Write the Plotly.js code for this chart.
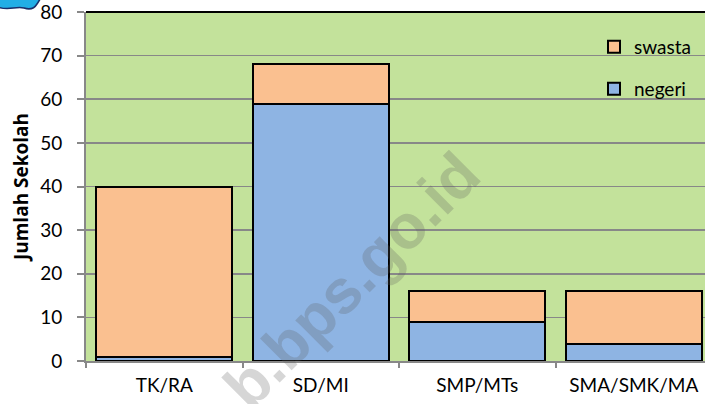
<!DOCTYPE html>
<html>
<head>
<meta charset="utf-8">
<script src="https://cdn.plot.ly/plotly-3.0.1.min.js"></script>
<style>html,body{margin:0;padding:0;background:#fff;}#chart{width:705px;height:404px;}</style>
</head>
<body>
<div id="chart"></div>
<script>
const categories = ["TK/RA", "SD/MI", "SMP/MTs", "SMA/SMK/MA"];
const negeri = [1, 59, 9, 4];
const swasta = [39, 9, 7, 12];
const yTicks = [0, 10, 20, 30, 40, 50, 60, 70, 80];

const W = 705, H = 404;
const M = {l: 86, r: 0, t: 12, b: 43};
const pw = W - M.l - M.r, ph = H - M.t - M.b;
const px2x = p => (p - M.l) / pw;
const py2y = p => (H - M.b - p) / ph;

const font = "Lato, 'Open Sans', sans-serif";

const traces = [
  {type: "bar", name: "negeri", x: categories, y: negeri,
   marker: {color: "#8eb4e3", line: {color: "#000", width: 2}},
   legend: "legend2", hoverinfo: "x+y+name"},
  {type: "bar", name: "swasta", x: categories, y: swasta,
   marker: {color: "#fac090", line: {color: "#000", width: 2}},
   legend: "legend", hoverinfo: "x+y+name"}
];

const layout = {
  width: W, height: H,
  margin: M,
  paper_bgcolor: "#ffffff",
  plot_bgcolor: "#c3e29b",
  barmode: "stack",
  bargap: 0.13,
  font: {family: font, size: 19, color: "#000"},
  showlegend: true,
  legend: {x: px2x(594), y: py2y(47), xanchor: "left", yanchor: "middle",
           bgcolor: "rgba(0,0,0,0)", font: {family: font, size: 19, color: "#000"},
           itemwidth: 30},
  legend2: {x: px2x(594), y: py2y(89), xanchor: "left", yanchor: "middle",
            bgcolor: "rgba(0,0,0,0)", font: {family: font, size: 19, color: "#000"},
            itemwidth: 30},
  xaxis: {
    type: "category",
    range: [-0.5, 3.5 - 7 / 156.5],
    showline: true, linecolor: "#888888", linewidth: 2,
    ticks: "outside", tickson: "boundaries", ticklen: 5, tickwidth: 2, tickcolor: "#888888",
    showgrid: false, zeroline: false,
    tickfont: {family: font, size: 19, color: "#000"},
    ticklabelstandoff: 6,
    ticklabeloverflow: "allow"
  },
  yaxis: {
    range: [0, 80],
    tickvals: yTicks,
    showline: true, linecolor: "#888888", linewidth: 2,
    ticks: "outside", ticklen: 7, tickwidth: 2, tickcolor: "#888888",
    showgrid: true, gridcolor: "#888888", gridwidth: 1.6,
    zeroline: false,
    tickfont: {family: font, size: 19, color: "#000"},
    ticklabelstandoff: 11,
    ticklabeloverflow: "allow",
    title: {text: "Jumlah Sekolah", font: {family: "'Open Sans', sans-serif", size: 19, color: "#000", weight: "bold"}, standoff: 7}
  },
  shapes: [
    {type: "line", xref: "paper", yref: "paper", x0: 0, x1: 1, y0: 1, y1: 1,
     line: {color: "#000", width: 2}},
    {type: "path", xref: "paper", yref: "paper", xsizemode: "pixel", ysizemode: "pixel",
     xanchor: px2x(0), yanchor: py2y(0),
     path: "M -2,2 L -2,-7 C 8,-11 16,-6 24,-8 C 30,-10 34,-9 37,-4 C 39,-1 40,1 41,2 Z",
     fillcolor: "#22aee6", line: {color: "#1a2f6b", width: 1.5}}
  ],
  annotations: [
    {text: "b.bps.go.id", xref: "paper", yref: "paper", x: px2x(351), y: py2y(280),
     xanchor: "center", yanchor: "middle", showarrow: false, textangle: -45,
     font: {family: "'Liberation Sans', Arial, sans-serif", size: 62, weight: "bold",
            color: "rgba(90,90,90,0.25)"}}
  ]
};

Plotly.newPlot("chart", traces, layout, {displayModeBar: false, staticPlot: true});
</script>
</body>
</html>
